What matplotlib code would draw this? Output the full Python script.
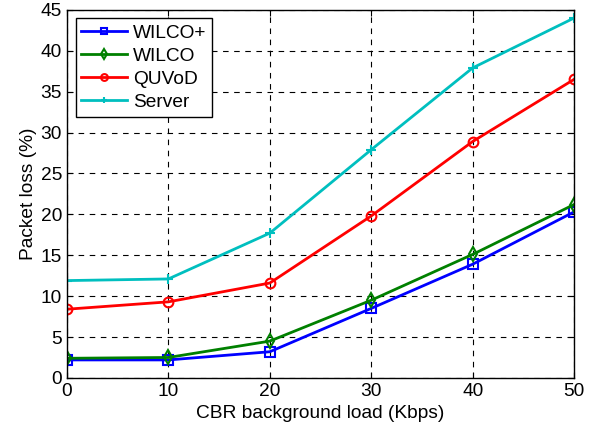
import matplotlib.pyplot as plt

plt.rcParams['font.family'] = ['Liberation Sans', 'DejaVu Sans']

loads = [0, 10, 20, 30, 40, 50]
wilco_plus = [2.2, 2.2, 3.2, 8.5, 13.9, 20.3]
wilco = [2.4, 2.5, 4.5, 9.5, 15.1, 21.2]
quvod = [8.4, 9.3, 11.6, 19.8, 28.9, 36.5]
server = [11.9, 12.1, 17.7, 27.9, 37.9, 44.0]

fs = 13.8

fig = plt.figure(figsize=(6.03, 4.28), dpi=100)
ax = fig.add_axes([0.111, 0.117, 0.841, 0.860])

ax.plot(loads, wilco_plus, color=(0, 0, 1), marker='s', mfc='none', ms=7, mew=1.5, lw=2, label='WILCO+')
ax.plot(loads, wilco, color=(0, 0.5, 0), marker='d', mfc='none', ms=7.5, mew=1.5, lw=2, label='WILCO')
ax.plot(loads, quvod, color=(1, 0, 0), marker='o', mfc='none', ms=7, mew=1.5, lw=2, label='QUVoD')
ax.plot(loads, server, color=(0, 0.75, 0.75), marker='+', ms=7, mew=1.5, lw=2, label='Server')

ax.set_xlim(0, 50)
ax.set_ylim(0, 45)
ax.set_xticks(loads)
ax.set_yticks(range(0, 46, 5))
ax.grid(True, color='black', linestyle=(0, (5, 5)), linewidth=0.8)
ax.tick_params(direction='in', labelsize=fs, length=4, top=True, right=True)
for s in ax.spines.values():
    s.set_linewidth(1)
ax.set_xlabel('CBR background load (Kbps)', fontsize=fs, labelpad=4)
ax.set_ylabel('Packet loss (%)', fontsize=fs, labelpad=3)

leg = ax.legend(loc='upper left', fontsize=fs, fancybox=False, edgecolor='black',
                framealpha=1, handlelength=2.4, borderpad=0.3, labelspacing=0.3,
                handletextpad=0.3, borderaxespad=0.45, markerscale=0.7)
leg.get_frame().set_linewidth(1)

fig.savefig('out.png', dpi=100)
